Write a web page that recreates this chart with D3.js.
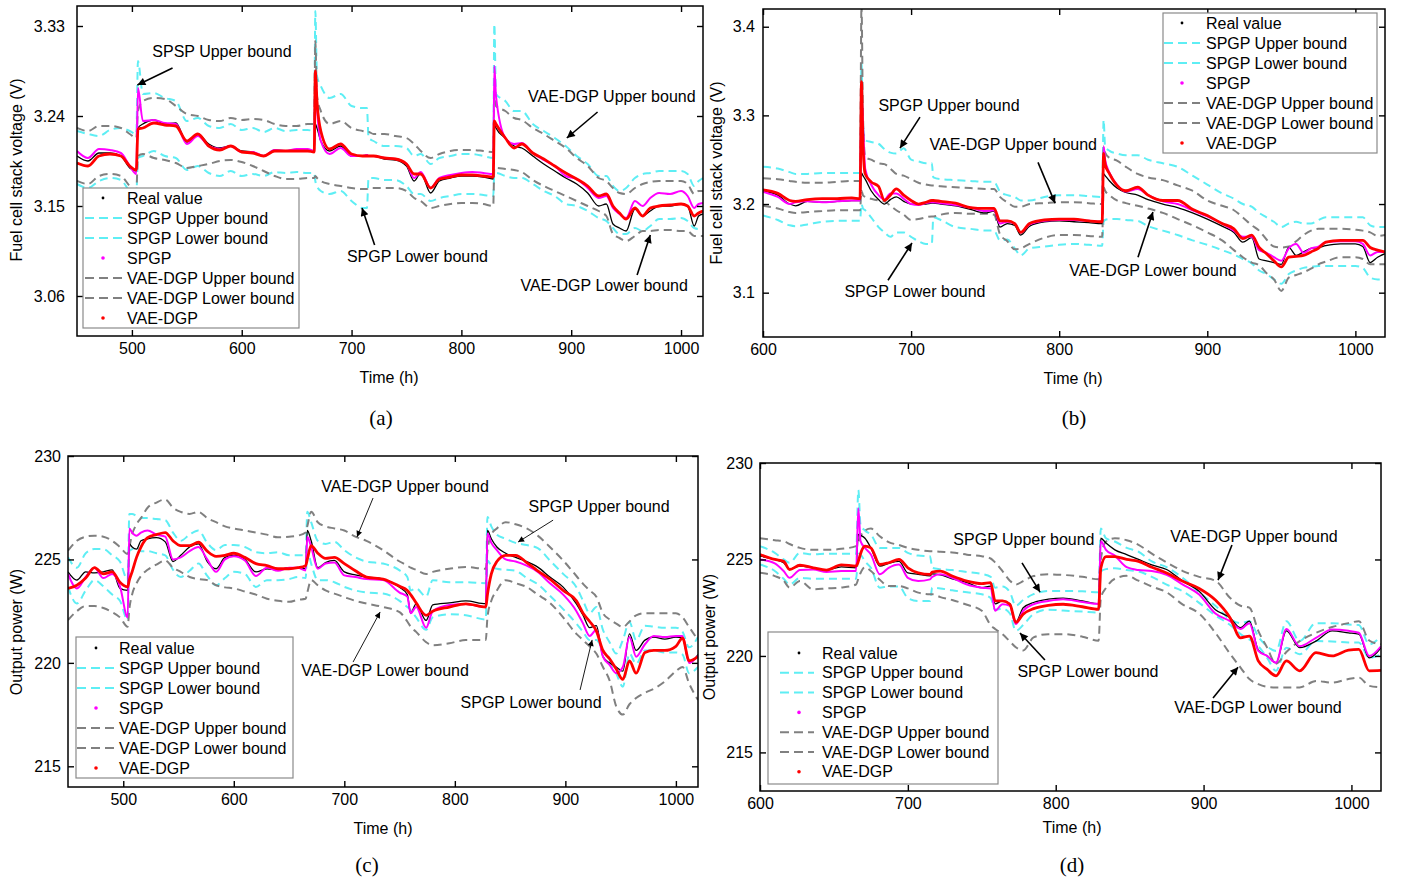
<!DOCTYPE html>
<html><head><meta charset="utf-8">
<script src="https://cdn.jsdelivr.net/npm/d3@7"></script>
<style>body{margin:0;background:#fff}svg{display:block}</style>
</head><body><svg id="c" width="1401" height="882"></svg>
<script>
// ---------------- DATA ----------------
const legendLabels = ["Real value","SPGP Upper bound","SPGP Lower bound","SPGP","VAE-DGP Upper bound","VAE-DGP Lower bound","VAE-DGP"];

// Panel (a): voltage, 450-1020 h
const tA = [450,460,470,480,490,498,504, 505.5,510,520,530,540, 550,560,570,580,590,600,610,620,630,640,650,660, 666,667,668.5,672, 680,690,700,710,714,715.5, 720,730,740,750,757,763,772,780,790,800,810,820,829, 830,831.5, 840,848,855,865,875,885,895,905,915, 925,932,938,944,950,958,965,972, 980,990,1000,1006,1012,1016,1020];
const realA = [3.200,3.195,3.203,3.203,3.200,3.188,3.185, 3.228,3.232,3.236,3.232,3.233, 3.214,3.222,3.212,3.208,3.210,3.205,3.204,3.200,3.206,3.205,3.206,3.206, 3.205,3.232,3.228,3.215, 3.205,3.210,3.200,3.200,3.201,3.200, 3.200,3.197,3.196,3.190,3.175,3.183,3.163,3.175,3.178,3.180,3.180,3.179,3.177, 3.232,3.228, 3.218,3.210,3.208,3.200,3.192,3.185,3.178,3.172,3.163, 3.150,3.152,3.132,3.128,3.125,3.147,3.140,3.145, 3.150,3.150,3.152,3.150,3.130,3.140,3.142];
const spgpA = [3.205,3.198,3.207,3.206,3.203,3.190,3.182, 3.268,3.235,3.236,3.233,3.232, 3.212,3.220,3.210,3.207,3.210,3.204,3.204,3.200,3.206,3.205,3.207,3.207, 3.205,3.285,3.250,3.215, 3.202,3.208,3.200,3.200,3.201,3.200, 3.200,3.198,3.197,3.192,3.178,3.184,3.168,3.178,3.181,3.183,3.184,3.183,3.182, 3.290,3.260, 3.218,3.212,3.213,3.203,3.196,3.190,3.180,3.177,3.168, 3.158,3.160,3.148,3.142,3.138,3.155,3.150,3.158, 3.163,3.162,3.165,3.160,3.148,3.152,3.153];
const vaeA = [3.193,3.190,3.200,3.202,3.200,3.190,3.186, 3.227,3.228,3.233,3.231,3.230, 3.215,3.222,3.210,3.206,3.210,3.204,3.203,3.200,3.205,3.205,3.205,3.205, 3.204,3.285,3.255,3.225, 3.207,3.212,3.202,3.200,3.200,3.200, 3.200,3.198,3.197,3.192,3.182,3.182,3.168,3.177,3.179,3.181,3.181,3.180,3.179, 3.235,3.232, 3.218,3.208,3.212,3.203,3.197,3.190,3.183,3.177,3.170, 3.160,3.162,3.150,3.143,3.137,3.148,3.140,3.148, 3.150,3.151,3.152,3.150,3.140,3.143,3.145];
const spgpUpA = [3.225,3.222,3.220,3.226,3.228,3.225,3.222, 3.295,3.262,3.263,3.258,3.255, 3.235,3.238,3.230,3.228,3.232,3.226,3.228,3.224,3.228,3.225,3.226,3.226, 3.225,3.345,3.280,3.270, 3.258,3.262,3.250,3.248,3.248,3.218, 3.215,3.210,3.210,3.208,3.200,3.202,3.192,3.198,3.200,3.202,3.202,3.200,3.198, 3.332,3.262, 3.255,3.245,3.245,3.232,3.225,3.218,3.210,3.200,3.192, 3.180,3.180,3.170,3.165,3.168,3.178,3.182,3.183, 3.185,3.185,3.185,3.182,3.170,3.175,3.178];
const spgpLoA = [3.172,3.168,3.175,3.178,3.176,3.165,3.162, 3.198,3.200,3.205,3.200,3.198, 3.186,3.190,3.183,3.180,3.185,3.180,3.182,3.180,3.184,3.183,3.184,3.183, 3.183,3.175,3.170,3.165, 3.162,3.165,3.155,3.148,3.148,3.178, 3.178,3.176,3.176,3.170,3.162,3.162,3.155,3.158,3.160,3.162,3.162,3.161,3.160, 3.182,3.183, 3.180,3.178,3.178,3.172,3.165,3.160,3.152,3.150,3.145, 3.138,3.135,3.128,3.122,3.122,3.128,3.125,3.130, 3.137,3.137,3.138,3.135,3.128,3.127,3.128];
const vaeUpA = [3.228,3.225,3.230,3.230,3.228,3.222,3.218, 3.245,3.255,3.258,3.257,3.250, 3.242,3.240,3.236,3.235,3.238,3.236,3.237,3.236,3.232,3.230,3.230,3.232, 3.232,3.315,3.260,3.245, 3.232,3.235,3.228,3.225,3.224,3.224, 3.222,3.222,3.220,3.218,3.212,3.205,3.198,3.202,3.205,3.206,3.206,3.205,3.204, 3.260,3.250, 3.245,3.238,3.236,3.228,3.222,3.215,3.208,3.198,3.190, 3.178,3.175,3.168,3.163,3.162,3.168,3.172,3.174, 3.175,3.175,3.175,3.172,3.162,3.165,3.165];
const vaeLoA = [3.175,3.172,3.180,3.182,3.180,3.170,3.165, 3.200,3.202,3.198,3.196,3.193, 3.188,3.190,3.192,3.195,3.196,3.194,3.190,3.185,3.180,3.177,3.177,3.178, 3.178,3.180,3.178,3.175, 3.172,3.170,3.168,3.167,3.167,3.168, 3.168,3.168,3.168,3.165,3.158,3.155,3.148,3.150,3.152,3.153,3.153,3.152,3.150, 3.188,3.188, 3.187,3.186,3.184,3.176,3.170,3.165,3.160,3.155,3.150, 3.145,3.140,3.122,3.118,3.115,3.120,3.125,3.125, 3.126,3.126,3.125,3.125,3.120,3.120,3.120];

// Panel (b): voltage, 600-1020 h
const tB = [600,610,618,622,630,640,650,660, 665.5,666.5,667.5,669, 673,678,682,686,690,695,700,705,710,714,715, 720,730,740,750,756,760,765,770,774,780,790,800,810,820,829, 830,831,834, 839,845,853,860,870,880,890,900,910, 918,924,930,935,940,945,950,955,960,965,970,975, 980,990,1000,1005,1010,1015,1020];
const realB = [3.215,3.210,3.200,3.198,3.203,3.202,3.203,3.204, 3.204,3.235,3.232,3.228, 3.215,3.205,3.200,3.205,3.208,3.203,3.200,3.200,3.200,3.201,3.201, 3.200,3.198,3.194,3.190,3.192,3.174,3.178,3.176,3.165,3.175,3.180,3.181,3.180,3.179,3.178, 3.234,3.232,3.226, 3.218,3.213,3.210,3.205,3.200,3.196,3.190,3.183,3.175, 3.168,3.157,3.162,3.138,3.136,3.134,3.132,3.151,3.142,3.146,3.150,3.151, 3.153,3.155,3.155,3.152,3.134,3.140,3.144];
const spgpB = [3.214,3.208,3.200,3.202,3.203,3.202,3.203,3.204, 3.204,3.325,3.290,3.240, 3.222,3.210,3.205,3.212,3.212,3.206,3.200,3.199,3.201,3.202,3.202, 3.201,3.199,3.196,3.192,3.193,3.178,3.180,3.178,3.168,3.177,3.181,3.182,3.182,3.181,3.180, 3.265,3.250,3.235, 3.222,3.214,3.217,3.210,3.203,3.200,3.193,3.186,3.178, 3.170,3.163,3.163,3.148,3.145,3.140,3.136,3.150,3.155,3.145,3.150,3.152, 3.157,3.158,3.158,3.155,3.142,3.146,3.146];
const vaeB = [3.216,3.212,3.204,3.203,3.205,3.206,3.206,3.207, 3.206,3.338,3.268,3.234, 3.225,3.220,3.204,3.210,3.217,3.210,3.204,3.200,3.202,3.204,3.204, 3.203,3.201,3.196,3.195,3.195,3.181,3.181,3.178,3.168,3.178,3.182,3.183,3.183,3.181,3.180, 3.257,3.245,3.234, 3.221,3.215,3.219,3.210,3.204,3.204,3.194,3.187,3.178, 3.172,3.161,3.165,3.151,3.144,3.136,3.129,3.140,3.141,3.142,3.146,3.150, 3.157,3.159,3.159,3.159,3.151,3.148,3.146];
const spgpUpB = [3.242,3.240,3.236,3.234,3.234,3.235,3.235,3.235, 3.235,3.359,3.290,3.272, 3.270,3.268,3.262,3.258,3.257,3.263,3.250,3.248,3.246,3.246,3.230, 3.228,3.227,3.226,3.225,3.225,3.214,3.210,3.208,3.204,3.204,3.208,3.210,3.210,3.209,3.208, 3.295,3.265,3.260, 3.257,3.255,3.255,3.250,3.246,3.242,3.232,3.222,3.212, 3.206,3.200,3.197,3.190,3.185,3.180,3.174,3.178,3.180,3.178,3.178,3.182, 3.185,3.185,3.185,3.185,3.176,3.174,3.174];
const spgpLoB = [3.187,3.182,3.176,3.175,3.177,3.180,3.181,3.181, 3.181,3.200,3.195,3.193, 3.185,3.174,3.168,3.163,3.168,3.168,3.163,3.158,3.155,3.155,3.185, 3.182,3.174,3.172,3.170,3.170,3.159,3.160,3.150,3.142,3.150,3.152,3.154,3.155,3.154,3.153, 3.180,3.182,3.183, 3.183,3.182,3.181,3.175,3.170,3.165,3.159,3.154,3.148, 3.143,3.138,3.133,3.125,3.121,3.115,3.110,3.121,3.125,3.128,3.129,3.130, 3.130,3.130,3.130,3.128,3.117,3.115,3.115];
const vaeUpB = [3.229,3.228,3.226,3.225,3.224,3.224,3.225,3.226, 3.226,3.425,3.300,3.253, 3.250,3.246,3.245,3.240,3.234,3.232,3.228,3.224,3.222,3.221,3.221, 3.220,3.219,3.218,3.217,3.217,3.208,3.202,3.197,3.197,3.200,3.201,3.202,3.202,3.201,3.200, 3.265,3.258,3.252, 3.249,3.242,3.234,3.230,3.227,3.221,3.215,3.204,3.198, 3.193,3.185,3.176,3.170,3.160,3.152,3.151,3.152,3.158,3.165,3.170,3.172, 3.172,3.172,3.171,3.170,3.168,3.164,3.165];
const vaeLoB = [3.198,3.195,3.191,3.190,3.191,3.192,3.193,3.193, 3.193,3.215,3.210,3.208, 3.206,3.204,3.203,3.198,3.193,3.188,3.182,3.183,3.185,3.186,3.186, 3.188,3.190,3.189,3.189,3.188,3.166,3.158,3.149,3.150,3.155,3.162,3.165,3.165,3.164,3.163, 3.219,3.215,3.210, 3.204,3.201,3.198,3.195,3.190,3.183,3.176,3.168,3.159, 3.148,3.140,3.134,3.131,3.122,3.115,3.102,3.117,3.120,3.123,3.127,3.132, 3.135,3.140,3.140,3.138,3.132,3.132,3.132];

// Panel (c): power, 450-1020 h
const tC = [450,458,466,474,482,490,497,504, 505.5,508,512,516, 522,530,538,545,552,560,568,576,584,592, 600,610,620,630,640,650,658,665, 666.5,670,676,683,691,700,710,720, 735,750,757,760,765,774,780,795,810,828, 829.5,833,838, 846,855,865,875,886,898,910, 916,922,928,934,940,946,952,958,964, 972,980,990,1000,1006,1012,1020];
const realC = [224.4,224.0,224.4,224.35,224.4,224.5,223.6,223.5, 225.75,225.6,225.5,225.9, 226.0,226.05,225.85,224.9,225.2,225.6,225.75,224.9,224.55,225.1, 225.2,225.0,224.4,224.55,224.5,224.6,224.6,224.55, 226.4,225.9,224.6,224.85,224.95,224.4,224.25,224.15, 224.05,223.65,223.3,222.4,222.85,222.05,222.8,222.9,223.0,222.86, 226.4,226.0,225.6, 225.3,225.1,224.9,224.63,224.15,223.66,222.85, 222.3,221.7,221.8,220.3,220.0,219.8,219.6,221.4,220.6, 221.1,221.25,221.15,221.25,221.2,220.0,220.4];
const spgpC = [224.3,223.6,224.15,224.6,224.1,224.3,223.7,222.2, 226.5,226.3,226.15,226.3, 226.4,226.2,226.1,225.0,225.1,225.4,225.6,225.0,224.4,225.0, 225.15,224.95,224.2,224.6,224.45,224.6,224.6,224.47, 226.1,225.6,224.55,224.8,224.85,224.23,224.15,224.05, 224.0,223.4,223.2,222.4,222.7,221.7,222.5,222.8,222.85,222.7, 226.25,225.8,225.45, 225.0,224.9,224.7,224.4,223.85,223.3,222.5, 221.9,221.3,221.6,220.3,219.9,219.5,219.8,221.25,220.3, 220.9,221.3,221.25,221.3,221.3,220.0,220.35];
const vaeC = [223.6,223.75,224.1,224.6,224.3,224.4,223.9,223.67, 224.0,224.4,225.1,225.6, 226.05,226.2,226.3,225.9,225.67,225.67,225.83,225.4,225.15,225.2, 225.3,225.1,224.8,224.7,224.55,224.55,224.6,224.7, 225.0,225.67,225.3,225.05,225.1,224.8,224.45,224.15, 224.05,223.7,223.5,223.3,222.9,222.3,222.5,222.7,222.85,222.7, 223.3,224.3,224.9, 225.2,225.2,224.85,224.45,224.05,223.5,223.0, 222.4,222.0,221.55,220.6,220.2,219.7,219.2,220.1,219.5, 220.5,220.6,220.6,220.8,221.2,220.1,220.3];
const spgpUpC = [225.1,224.6,225.3,225.5,225.5,225.2,224.9,224.0, 227.2,227.2,227.1,227.0, 227.0,226.95,226.9,226.3,225.9,226.2,226.4,225.8,225.45,225.7, 225.7,225.6,225.35,225.3,225.35,225.2,225.2,225.2, 227.3,226.8,225.9,225.75,225.85,225.45,225.1,224.9, 224.8,224.47,224.15,223.5,223.6,223.2,224.0,223.9,223.9,223.85, 227.05,226.6,226.2, 226.0,225.8,225.7,225.55,224.95,224.3,223.66, 223.0,222.4,222.7,221.6,221.0,220.45,221.1,221.97,221.1, 221.8,221.75,221.7,221.7,221.5,220.75,221.25];
const spgpLoC = [223.67,222.87,223.5,224.0,223.7,223.3,223.0,222.07, 225.4,225.5,225.6,225.4, 225.4,225.3,225.2,224.5,224.15,224.45,224.8,224.2,223.75,224.1, 224.4,224.3,223.67,224.0,224.0,224.05,224.15,224.1, 225.43,224.8,224.0,224.0,223.9,223.67,223.5,223.4, 223.35,223.0,222.7,222.55,222.2,221.6,222.2,222.35,222.3,222.1, 224.95,224.7,224.55, 224.5,224.45,224.1,223.8,223.25,222.6,221.9, 221.5,221.1,221.1,220.6,220.1,219.5,218.85,220.45,219.95, 220.6,220.6,220.5,220.5,220.4,219.5,219.8];
const vaeUpC = [225.43,225.9,226.1,226.15,226.1,225.9,225.6,225.27, 225.6,226.2,226.7,227.0, 227.5,227.75,227.9,227.5,227.3,227.2,227.3,227.0,226.8,226.6, 226.5,226.4,226.3,226.2,226.07,226.1,226.15,226.3, 226.6,227.3,226.8,226.6,226.5,226.4,226.1,225.9, 225.45,224.9,224.7,224.6,224.5,224.3,224.4,224.55,224.63,224.55, 225.4,226.2,226.5, 226.8,226.7,226.5,226.15,225.6,224.95,224.2, 223.82,223.5,223.2,222.4,222.1,221.9,221.73,222.0,222.3, 222.4,222.4,222.4,222.4,222.2,221.73,221.1];
const vaeLoC = [222.07,222.5,222.75,222.75,222.65,222.45,222.2,221.75, 222.6,223.3,223.85,224.2, 224.5,224.75,224.95,224.6,224.4,224.15,224.05,224.0,223.75,223.65, 223.6,223.45,223.3,223.1,223.0,222.95,223.05,223.1, 223.4,224.0,223.75,223.5,223.35,223.18,223.0,222.87, 222.7,222.45,222.0,221.75,221.5,221.0,220.85,220.95,221.1,221.1, 222.2,223.0,223.5, 224.0,223.85,223.67,223.3,222.9,222.2,221.4, 221.1,220.8,220.45,219.8,219.15,217.9,217.5,218.0,218.3, 218.55,218.75,219.1,219.6,219.8,219.0,218.2];

// Panel (d): power, 600-1020 h
const tD = [600,610,616,620,627,636,645,655,665, 666.5,668,671,675, 681,687,694,700,707,715, 716.5,722,730,740,750,756,759,764,769, 773,778,785,795,805,818,829, 830.5,834,840,848,856, 865,875,886,897,908,918,925, 931,937,943,949,956,965, 976,987,998,1005,1012,1020];
const realD = [225.17,225.0,224.83,224.5,224.66,224.57,224.45,224.62,224.57, 226.3,226.25,226.1,225.6, 224.66,224.8,224.9,224.3,224.23,224.15, 224.25,224.2,224.0,223.8,223.54,223.62,222.7,222.85,222.7, 221.74,222.5,222.77,222.94,223.0,222.85,222.7, 226.1,225.85,225.5,225.25,225.0, 224.72,224.48,223.87,223.35,222.4,221.97,221.46, 221.8,220.3,220.0,219.65,221.3,220.43, 220.77,221.3,221.2,221.13,219.9,220.43];
const spgpD = [225.0,224.8,224.4,224.05,224.45,224.48,224.35,224.4,224.4, 227.66,225.95,225.6,225.26, 224.23,224.57,224.74,224.05,223.88,223.97, 224.1,224.23,224.05,223.7,223.54,223.5,222.34,222.68,222.6, 221.65,222.34,222.68,222.85,222.94,222.8,222.7, 225.95,225.5,225.2,224.6,224.45, 224.4,224.2,223.7,223.18,222.2,221.8,221.4, 221.7,220.26,220.0,219.65,221.4,220.5, 220.94,221.37,221.3,221.2,220.0,220.5];
const vaeD = [225.26,225.0,224.9,224.48,224.7,224.57,224.45,224.72,224.66, 224.9,225.3,225.69,225.6, 224.74,224.83,225.0,224.57,224.31,224.23, 224.35,224.4,224.14,223.88,223.75,223.8,222.85,222.85,222.68, 221.74,222.17,222.45,222.62,222.68,222.55,222.42, 224.55,225.15,225.15,225.0,224.9, 224.6,224.3,223.87,223.5,222.9,221.97,220.94, 221.03,219.74,219.3,218.97,219.74,219.23, 220.17,220.0,220.3,220.34,219.23,219.25];
const spgpUpD = [225.69,225.34,225.0,224.83,225.34,225.26,225.3,225.3,225.3, 228.6,226.8,226.5,226.29, 225.6,225.6,225.6,225.34,225.2,225.17, 224.57,224.5,224.45,224.35,224.25,224.1,223.54,223.6,223.3, 222.6,222.9,223.2,223.37,223.37,223.35,223.3, 226.6,226.1,225.93,225.6,225.4, 224.9,224.6,224.04,223.3,222.6,221.9,221.7, 221.8,221.0,220.5,220.26,221.8,220.77, 221.7,221.7,221.63,221.6,220.6,221.03];
const spgpLoD = [224.74,224.4,224.0,223.7,224.05,224.0,224.0,224.0,224.0, 225.3,225.26,224.9,224.57, 223.54,223.6,223.6,223.0,222.85,222.85, 223.54,223.5,223.4,223.3,223.2,223.0,222.4,222.45,222.2, 221.3,221.6,222.17,222.4,222.35,222.3,222.25, 224.38,224.5,224.55,224.45,224.38, 224.1,223.7,223.35,222.75,222.1,221.6,221.13, 220.85,220.5,219.9,219.23,220.43,220.09, 220.77,220.75,220.7,220.7,219.9,220.09];
const vaeUpD = [226.1,226.0,225.95,225.8,225.6,225.5,225.5,225.55,225.69, 225.9,226.2,226.5,226.6, 226.2,225.9,225.75,225.6,225.5,225.43, 225.43,225.4,225.36,225.25,225.17,225.05,224.85,224.4,223.9, 223.7,223.88,224.14,224.23,224.2,224.1,223.97, 225.0,225.93,226.1,226.0,225.76, 225.3,224.85,224.4,224.1,223.9,223.0,222.6, 222.5,221.3,220.43,219.6,220.2,220.77, 221.2,221.5,221.7,221.8,220.8,220.6];
const vaeLoD = [224.31,224.14,223.9,223.54,223.88,223.45,223.5,223.55,223.7, 224.0,224.3,224.6,224.4, 223.95,223.62,223.62,223.5,223.28,223.2, 223.2,223.05,222.9,222.65,222.34,221.6,221.4,221.13,220.75, 220.45,220.28,220.96,221.13,221.13,221.0,220.79, 223.0,223.52,224.0,224.15,223.9, 223.6,223.3,222.66,222.2,221.2,220.1,219.4, 218.8,218.54,218.4,218.37,218.37,218.37, 218.7,218.62,218.8,218.88,218.45,218.37];

// ticks
const xTicksA = [500,600,700,800,900,1000], yTicksA = [3.06,3.15,3.24,3.33];
const xTicksB = [600,700,800,900,1000],     yTicksB = [3.1,3.2,3.3,3.4];
const xTicksC = [500,600,700,800,900,1000], yTicksC = [215,220,225,230];
const xTicksD = [600,700,800,900,1000],     yTicksD = [215,220,225,230];

// annotations (text baseline position and arrow in data units)
const annA = [
 {text:"SPSP Upper bound", t:582, v:3.299, from:[537,3.288], to:[505,3.271]},
 {text:"SPGP Lower bound", t:760, v:3.094, from:[721,3.111], to:[709.5,3.148]},
 {text:"VAE-DGP Upper bound", t:937, v:3.254, from:[924,3.244], to:[896,3.218]},
 {text:"VAE-DGP Lower bound", t:930, v:3.065, from:[960,3.081], to:[972,3.121]}];
const annB = [
 {text:"SPGP Upper bound", t:725.6, v:3.305, from:[706,3.298], to:[692.5,3.263]},
 {text:"VAE-DGP Upper bound", t:769, v:3.261, from:[785.7,3.247], to:[797.2,3.201]},
 {text:"SPGP Lower bound", t:702.6, v:3.095, from:[684.4,3.114], to:[700.6,3.156]},
 {text:"VAE-DGP Lower bound", t:863.3, v:3.119, from:[853.2,3.140], to:[863.3,3.191]}];
const annC = [
 {text:"VAE-DGP Upper bound", t:755, v:228.26, from:[726,227.97], to:[711.5,226.09]},
 {text:"SPGP Upper bound", t:930.5, v:227.29, from:[888.9,226.9], to:[857.2,225.84]},
 {text:"VAE-DGP Lower bound", t:736.9, v:219.37, from:[707.9,220.04], to:[732.4,222.46]},
 {text:"SPGP Lower bound", t:869, v:217.82, from:[913.3,218.69], to:[924.2,221.11]}];
const annD = [
 {text:"SPGP Upper bound", t:778.5, v:225.75, from:[777.2,224.82], to:[789.4,223.31]},
 {text:"SPGP Lower bound", t:821.8, v:218.91, from:[792.7,219.79], to:[775.8,221.19]},
 {text:"VAE-DGP Upper bound", t:934.1, v:225.9, from:[919.2,225.75], to:[909.8,223.93]},
 {text:"VAE-DGP Lower bound", t:936.8, v:217.04, from:[906.4,217.82], to:[923.3,219.42]}];

// ---------------- LAYOUT / STYLE ----------------
const panels = [
 {key:'a', t:tA, s:{real:realA,spgpUp:spgpUpA,spgpLo:spgpLoA,spgp:spgpA,vaeUp:vaeUpA,vaeLo:vaeLoA,vae:vaeA},
  xDom:[450,1020], yDom:[3.02,3.35], xT:xTicksA, yT:yTicksA, fmt:'.2f', ann:annA, thin:false,
  box:[77,6,703,336], yGap:12, yTitle:"Fuel cell stack voltage (V)", yTitlePos:[16,170], xTitlePos:[389,377],
  label:"(a)", labelPos:[381,418], leg:{x:83,y:188,w:216,h:140,d0:2,d1:39,dot:20,tx:44,r0:10,rh:20}},
 {key:'b', t:tB, s:{real:realB,spgpUp:spgpUpB,spgpLo:spgpLoB,spgp:spgpB,vaeUp:vaeUpB,vaeLo:vaeLoB,vae:vaeB},
  xDom:[600,1020], yDom:[3.05,3.42], xT:xTicksB, yT:yTicksB, fmt:'.1f', ann:annB, thin:false,
  box:[763,9,1385,337], yGap:8, yTitle:"Fuel cell stack voltage (V)", yTitlePos:[716,173], xTitlePos:[1073,378],
  label:"(b)", labelPos:[1074,418], leg:{x:1163,y:13,w:214,h:140,d0:1,d1:37,dot:19,tx:43,r0:10,rh:20}},
 {key:'c', t:tC, s:{real:realC,spgpUp:spgpUpC,spgpLo:spgpLoC,spgp:spgpC,vaeUp:vaeUpC,vaeLo:vaeLoC,vae:vaeC},
  xDom:[450,1020], yDom:[214,230], xT:xTicksC, yT:yTicksC, fmt:'d', ann:annC, thin:true,
  box:[68,456,698,787], yGap:7, yTitle:"Output power (W)", yTitlePos:[16,632], xTitlePos:[383,828],
  label:"(c)", labelPos:[367,865], leg:{x:76,y:637,w:217,h:141,d0:1,d1:39,dot:20,tx:43,r0:11,rh:20}},
 {key:'d', t:tD, s:{real:realD,spgpUp:spgpUpD,spgpLo:spgpLoD,spgp:spgpD,vaeUp:vaeUpD,vaeLo:vaeLoD,vae:vaeD},
  xDom:[600,1020], yDom:[213,230], xT:xTicksD, yT:yTicksD, fmt:'d', ann:annD, thin:false,
  box:[760,463,1381,791], yGap:7, yTitle:"Output power (W)", yTitlePos:[709,637], xTitlePos:[1072,827],
  label:"(d)", labelPos:[1072,865], leg:{x:768,y:632,w:230,h:152,d0:12,d1:46,dot:31,tx:54,r0:21,rh:19.8}}
];
const CY = '#5eeef4', GR = '#808080';
const styles = {
  spgpUp:{c:CY,w:2,dash:'8,5'}, spgpLo:{c:CY,w:2,dash:'8,5'},
  vaeUp:{c:GR,w:2,dash:'8,5'},  vaeLo:{c:GR,w:2,dash:'8,5'},
  real:{c:'#000',w:1.3}, spgp:{c:'#ff00ff',w:2}, vae:{c:'#ff0000',w:2.8}
};
const drawOrder = ['spgpUp','spgpLo','vaeUp','vaeLo','real','spgp','vae'];
const legendKeys = ['real','spgpUp','spgpLo','spgp','vaeUp','vaeLo','vae'];
const FS = 16;
const SANS = '"Liberation Sans", Arial, sans-serif';
const SERIF = '"Liberation Serif", "Times New Roman", serif';

// ---------------- DRAW ----------------
const svg = d3.select('#c').style('font-family', SANS);
const defs = svg.append('defs');
function marker(id,w,h){
  defs.append('marker').attr('id',id).attr('viewBox','0 0 10 10').attr('refX',10).attr('refY',5)
    .attr('markerWidth',w).attr('markerHeight',h).attr('markerUnits','userSpaceOnUse').attr('orient','auto')
    .append('path').attr('d','M0,0L10,5L0,10z').attr('fill','#000');
}
marker('arrBig',12,8); marker('arrThin',9,6);

panels.forEach(p=>{
  const [x0,y0,x1,y1] = p.box;
  const x = d3.scaleLinear().domain(p.xDom).range([x0,x1]);
  const y = d3.scaleLinear().domain(p.yDom).range([y1,y0]);
  const g = svg.append('g');
  defs.append('clipPath').attr('id','clip'+p.key).append('rect')
    .attr('x',x0).attr('y',y0).attr('width',x1-x0).attr('height',y1-y0);
  const plot = g.append('g').attr('clip-path',`url(#clip${p.key})`);
  drawOrder.forEach(k=>{
    const st = styles[k], vals = p.s[k];
    const line = d3.line().x((d,i)=>x(p.t[i])).y(d=>y(d)).curve(d3.curveMonotoneX);
    plot.append('path').attr('d',line(vals)).attr('fill','none').attr('stroke',st.c)
      .attr('stroke-width',st.w).attr('stroke-dasharray',st.dash||null).attr('stroke-linejoin','round');
  });

  // axes
  const ax = (a)=>a.tickSizeInner(-6).tickSizeOuter(0);
  const gb = g.append('g').attr('transform',`translate(0,${y1})`).call(ax(d3.axisBottom(x).tickValues(p.xT)).tickPadding(7).tickFormat(d3.format('d')));
  const gl = g.append('g').attr('transform',`translate(${x0},0)`).call(ax(d3.axisLeft(y).tickValues(p.yT)).tickPadding(p.yGap).tickFormat(d3.format(p.fmt)));
  const gt = g.append('g').attr('transform',`translate(0,${y0})`).call(ax(d3.axisTop(x).tickValues(p.xT)).tickFormat(''));
  const gr = g.append('g').attr('transform',`translate(${x1},0)`).call(ax(d3.axisRight(y).tickValues(p.yT)).tickFormat(''));
  [gb,gl,gt,gr].forEach(a=>{
    a.select('.domain').remove();
    a.attr('font-family',null).attr('font-size',null);
    a.selectAll('line').attr('stroke','#000').attr('stroke-width',1.4);
    a.selectAll('text').style('font-size',FS+'px').style('font-family',SANS).attr('fill','#000');
  });
  g.append('rect').attr('x',x0).attr('y',y0).attr('width',x1-x0).attr('height',y1-y0)
    .attr('fill','none').attr('stroke','#000').attr('stroke-width',1.5);

  // titles
  g.append('text').attr('transform',`translate(${p.yTitlePos[0]},${p.yTitlePos[1]}) rotate(-90)`)
    .attr('text-anchor','middle').attr('dy','0.35em').style('font-size',FS+'px').text(p.yTitle);
  g.append('text').attr('x',p.xTitlePos[0]).attr('y',p.xTitlePos[1]).attr('dy','0.35em')
    .attr('text-anchor','middle').style('font-size',FS+'px').text('Time (h)');
  g.append('text').attr('x',p.labelPos[0]).attr('y',p.labelPos[1]).attr('dy','0.35em')
    .attr('text-anchor','middle').style('font-size','21px').style('font-family',SERIF).text(p.label);

  // annotations
  p.ann.forEach(a=>{
    g.append('text').attr('x',x(a.t)).attr('y',y(a.v)).attr('text-anchor','middle').style('font-size',FS+'px').text(a.text);
    g.append('line').attr('x1',x(a.from[0])).attr('y1',y(a.from[1])).attr('x2',x(a.to[0])).attr('y2',y(a.to[1]))
      .attr('stroke','#000').attr('stroke-width',p.thin?0.9:1.6).attr('marker-end',`url(#${p.thin?'arrThin':'arrBig'})`);
  });

  // legend
  const L = p.leg;
  const lg = g.append('g');
  lg.append('rect').attr('x',L.x).attr('y',L.y).attr('width',L.w).attr('height',L.h)
    .attr('fill','#fff').attr('stroke','#8a8a8a').attr('stroke-width',1.2);
  legendKeys.forEach((k,i)=>{
    const cy = L.y + L.r0 + i*L.rh, st = styles[k];
    if(st.dash){
      lg.append('line').attr('x1',L.x+L.d0).attr('x2',L.x+L.d1).attr('y1',cy).attr('y2',cy)
        .attr('stroke',st.c).attr('stroke-width',2).attr('stroke-dasharray','9,5');
    } else {
      lg.append('circle').attr('cx',L.x+L.dot).attr('cy',cy).attr('r',k==='real'?1.4:1.8).attr('fill',st.c);
    }
    lg.append('text').attr('x',L.x+L.tx).attr('y',cy).attr('dy','0.35em').style('font-size',FS+'px').text(legendLabels[i]);
  });
});
</script>
</body></html>
